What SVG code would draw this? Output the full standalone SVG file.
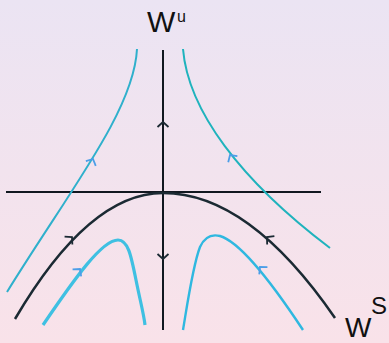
<svg xmlns="http://www.w3.org/2000/svg" width="389" height="343" viewBox="0 0 389 343">
<defs>
<linearGradient id="bg" x1="0" y1="0" x2="0" y2="1">
<stop offset="0" stop-color="#ebe4f3"/>
<stop offset="1" stop-color="#f9e2e9"/>
</linearGradient>
<path id="chev" d="M-5.5,5 L0,0 L5.5,5" fill="none"/>
</defs>
<style>
.axis{stroke:#111820;stroke-width:2;fill:none}
.sep{stroke:#1b2a33;stroke-width:2.5;fill:none}
.cy{stroke:#2fb0cc;stroke-width:2;fill:none}
.cyr{stroke:#1fb3bd;stroke-width:2;fill:none}
.cyl{stroke:#3fc0e2;stroke-width:3.2;fill:none}
.cyl2{stroke:#2fb8e0;stroke-width:2.4;fill:none}
.ka{stroke:#1b2a33;stroke-width:1.8;fill:none}
.ba{stroke:#4b9ee8;stroke-width:1.8;fill:none}
.lbl{font-family:"Liberation Sans",Arial,sans-serif;fill:#111}
</style>
<rect width="389" height="343" fill="url(#bg)"/>
<g id="connectors">
<path id="x-axis" class="axis" d="M6,192 H321"/>
<path id="y-axis" class="axis" d="M163,50 V330"/>
<path id="upper-left" class="cy" d="M137,49 C134,110 70,190 7,292"/>
<path id="upper-right" class="cyr" d="M183,49 C188,110 240,180 330,248"/>
<path id="separatrix" class="sep" d="M15,319 Q89,193 163,193 Q249,193 335,318"/>
<path id="lower-left" class="cyl" d="M43,325 C75,278 102,240 118,240 C128,240 131,255 136,280 C140,300 144,315 145,325"/>
<path id="lower-right" class="cyl2" d="M183,330 C188,300 193,265 200,247 C205,236 212,234 220,236 C240,242 270,280 303,330"/>
<use href="#chev" class="ka" transform="translate(163,122)"/>
<use href="#chev" class="ka" transform="translate(163,259) rotate(180)"/>
<use href="#chev" class="ka" transform="translate(72,237) rotate(45)"/>
<use href="#chev" class="ka" transform="translate(267,237) rotate(-49)"/>
<use href="#chev" class="ba" transform="translate(93,159) rotate(26)"/>
<use href="#chev" class="ba" transform="translate(230,155) rotate(-34)"/>
<use href="#chev" class="ba" transform="translate(80,269) rotate(39)"/>
<use href="#chev" class="ba" transform="translate(260,267) rotate(-42)"/>
</g>
<g id="label-wu">
<text class="lbl" x="147" y="32" font-size="30">W</text>
<text class="lbl" x="177" y="22" font-size="16">u</text>
</g>
<g id="label-ws">
<text class="lbl" x="345" y="337" font-size="28">W</text>
<text class="lbl" x="371" y="314" font-size="24">S</text>
</g>
</svg>
